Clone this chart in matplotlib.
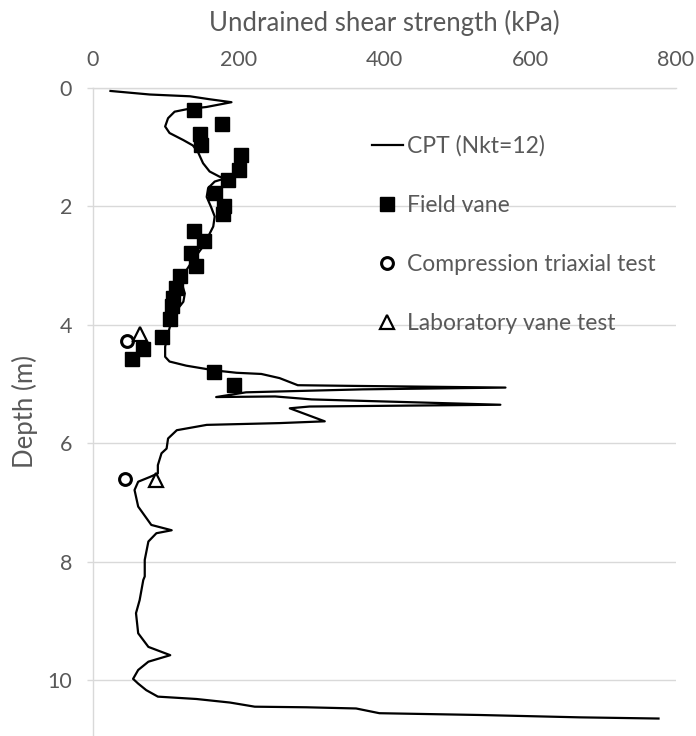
import matplotlib
matplotlib.use('Agg')
import matplotlib.pyplot as plt

# CPT profile (Nkt=12): undrained shear strength (kPa) vs depth (m)
cpt_su = [24, 78, 133, 160, 190, 156, 128, 112, 103, 99, 105, 124, 137, 144, 151, 160,
          174, 183, 167, 158, 156, 162, 167, 165, 158, 149, 137, 128, 121, 126, 124, 115,
          108, 103, 99, 99, 105, 128, 167, 197, 231, 256, 281, 347, 566, 370, 210, 169,
          250, 300, 559, 297, 270, 318, 256, 156, 115, 103, 101, 94, 89, 89, 78, 62,
          57, 62, 80, 108, 87, 76, 71, 71, 69, 64, 59, 62, 76, 106, 76, 62,
          55, 62, 73, 89, 142, 188, 222, 293, 361, 393, 530, 668, 776]
cpt_depth = [0.05, 0.11, 0.14, 0.19, 0.24, 0.32, 0.36, 0.40, 0.51, 0.65, 0.76, 0.88, 0.97, 1.08, 1.27, 1.41,
             1.50, 1.52, 1.58, 1.69, 1.84, 2.01, 2.17, 2.34, 2.51, 2.71, 2.91, 3.08, 3.27, 3.47, 3.61, 3.75,
             3.92, 4.15, 4.37, 4.54, 4.62, 4.69, 4.77, 4.81, 4.83, 4.90, 5.02, 5.03, 5.06, 5.09, 5.14, 5.22,
             5.21, 5.26, 5.35, 5.38, 5.41, 5.63, 5.66, 5.69, 5.78, 5.92, 6.09, 6.17, 6.37, 6.51, 6.57, 6.65,
             6.79, 7.07, 7.38, 7.47, 7.52, 7.66, 7.97, 8.25, 8.31, 8.65, 8.87, 9.21, 9.44, 9.58, 9.69, 9.83,
             9.98, 10.06, 10.17, 10.28, 10.32, 10.38, 10.45, 10.46, 10.48, 10.56, 10.59, 10.63, 10.65]

# field vane
fv_su = [138, 177, 147, 148, 203, 201, 185, 168, 180, 178, 138, 153, 134, 141, 120, 114,
         110, 108, 105, 94, 69, 53, 166, 193]
fv_depth = [0.38, 0.60, 0.77, 0.96, 1.13, 1.38, 1.55, 1.77, 2.00, 2.12, 2.41, 2.59, 2.79, 3.00, 3.17, 3.38,
            3.55, 3.69, 3.91, 4.21, 4.41, 4.58, 4.80, 5.02]

# compression triaxial test
ctx_su = [46, 44]
ctx_depth = [4.27, 6.61]

# laboratory vane test
lv_su = [64, 87]
lv_depth = [4.16, 6.62]

grey = '#595959'
light = '#d9d9d9'
plt.rcParams['font.family'] = ['Lato', 'DejaVu Sans']

fig = plt.figure(figsize=(6.96, 7.36), dpi=100)
ax = fig.add_axes([93 / 696, 0, 583 / 696, 648 / 736])

ax.plot(cpt_su, cpt_depth, color='black', linewidth=1.6, label='CPT (Nkt=12)')
ax.plot(fv_su, fv_depth, linestyle='none', marker='s', markersize=9.5, color='black',
        label='Field vane')
ax.plot(ctx_su, ctx_depth, linestyle='none', marker='o', markersize=8.5, markerfacecolor='white',
        markeredgecolor='black', markeredgewidth=2.2, label='Compression triaxial test')
ax.plot(lv_su, lv_depth, linestyle='none', marker='^', markersize=10, markerfacecolor='white',
        markeredgecolor='black', markeredgewidth=1.6, label='Laboratory vane test')

ax.set_xlim(0, 800)
ax.set_ylim(10.945, 0)
ax.set_xticks([0, 200, 400, 600, 800])
ax.set_yticks([0, 2, 4, 6, 8, 10])
ax.xaxis.tick_top()
ax.xaxis.set_label_position('top')
ax.set_xlabel('Undrained shear strength (kPa)', fontsize=18.5, color=grey, labelpad=14)
ax.set_ylabel('Depth (m)', fontsize=18.5, color=grey, labelpad=7)
ax.tick_params(axis='x', length=0, pad=13, labelsize=15.5, labelcolor=grey)
ax.tick_params(axis='y', length=4, width=1, color=light, pad=11, labelsize=15.5, labelcolor=grey)
ax.grid(axis='y', color=light, linewidth=1)
ax.set_axisbelow(True)
for side in ['right', 'bottom']:
    ax.spines[side].set_visible(False)
for side in ['left', 'top']:
    ax.spines[side].set_color(light)
    ax.spines[side].set_linewidth(1)

leg = ax.legend(loc='upper left', bbox_to_anchor=(0.4786, 0.9274), frameon=False, fontsize=16.5,
                labelspacing=1.67, handlelength=1.35, handletextpad=0.17, borderpad=0,
                borderaxespad=0, numpoints=1)
for t in leg.get_texts():
    t.set_color(grey)

fig.savefig('out.png', dpi=100)
